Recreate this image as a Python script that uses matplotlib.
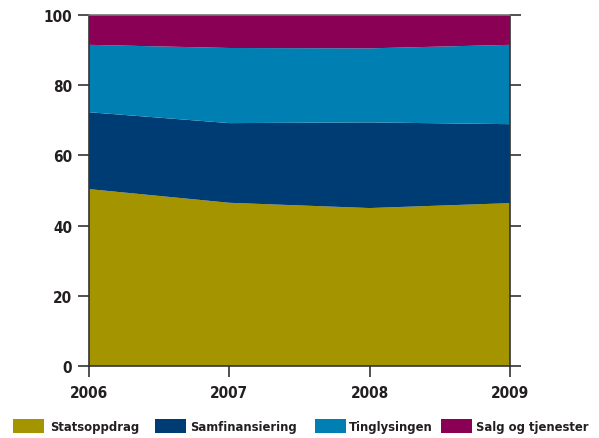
import matplotlib
matplotlib.use("Agg")
import matplotlib.pyplot as plt
from matplotlib.patches import Rectangle

# Data (share in percent)
years = [2006, 2007, 2008, 2009]
statsoppdrag = [50.4, 46.5, 45.0, 46.4]
samfinansiering = [21.9, 22.7, 24.4, 22.5]
tinglysingen = [19.2, 21.4, 21.1, 22.6]
salg = [8.5, 9.4, 9.5, 8.5]

labels = ["Statsoppdrag", "Samfinansiering", "Tinglysingen", "Salg og tjenester"]
colors = ["#a39400", "#003c74", "#0080b2", "#8a0055"]

plt.rcParams['font.family'] = ['DejaVu Sans']
plt.rcParams['font.stretch'] = 'condensed'
plt.rcParams['font.weight'] = 'bold'

W, H = 599, 439
fig = plt.figure(figsize=(W / 100, H / 100), dpi=100)
ax = fig.add_axes([89 / W, 72 / H, 421 / W, 351 / H])

ax.stackplot(years, statsoppdrag, samfinansiering, tinglysingen, salg,
             colors=colors, linewidth=0)

ax.set_xlim(2006, 2009)
ax.set_ylim(0, 100)
ax.set_xticks(years)
ax.set_yticks(range(0, 101, 20))
ax.tick_params(axis='both', direction='out', length=8, width=1.2, color='#333333',
               labelsize=11, labelcolor='#231f20')
ax.tick_params(axis='y', right=True, pad=4)
ax.tick_params(axis='x', pad=6)
for s in ax.spines.values():
    s.set_color('#333333')
    s.set_linewidth(1.2)
ax.spines['top'].set_color('#777777')

# legend laid out by hand along the bottom edge
handle_x = [13, 155, 315, 441]
text_x = [50, 190, 349, 476]
for hx, tx, lab, c in zip(handle_x, text_x, labels, colors):
    fig.patches.append(Rectangle((hx / W, (H - 434) / H), 31 / W, 14 / H,
                                 facecolor=c, edgecolor='none',
                                 transform=fig.transFigure))
    fig.text(tx / W, (H - 428) / H, lab, fontsize=9.3, color='#231f20',
             ha='left', va='center')

fig.savefig("out.png", dpi=100)
